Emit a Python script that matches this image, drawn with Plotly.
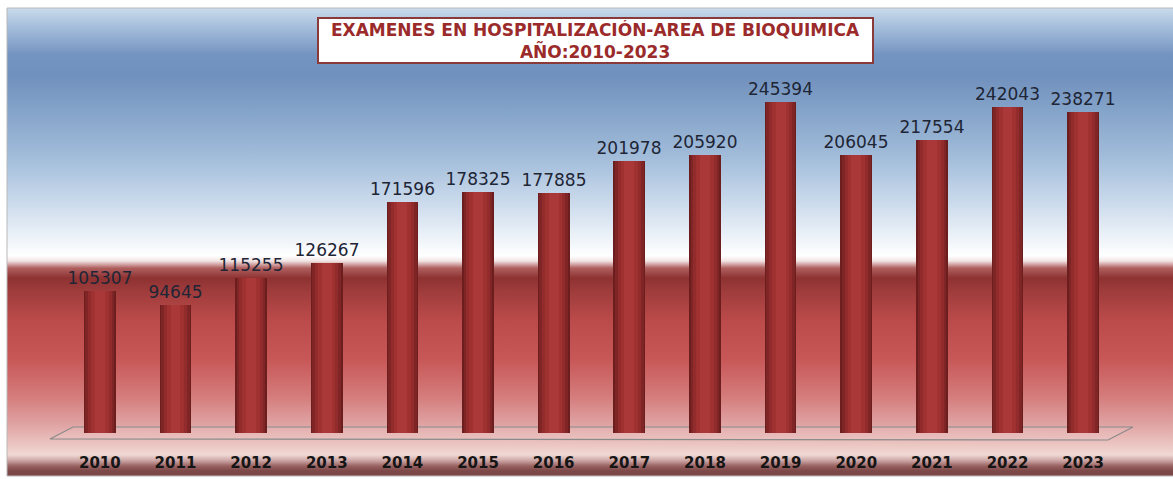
import base64
import plotly.graph_objects as go

years = ["2010", "2011", "2012", "2013", "2014", "2015", "2016",
         "2017", "2018", "2019", "2020", "2021", "2022", "2023"]
exams = [105307, 94645, 115255, 126267, 171596, 178325, 177885,
         201978, 205920, 245394, 206045, 217554, 242043, 238271]

W, H = 1173, 479
ML, MR, MT, MB = 62, 52, 80, 46
PW, PH = W - ML - MR, H - MT - MB
YMAX = 261700


def px(x):
    return (x - ML) / PW


def py(y):
    return (H - MB - y) / PH


def svg_gradient(stops, y0, y1, w):
    h = y1 - y0
    st = "".join(f'<stop offset="{(y - y0) / h:.4f}" stop-color="{c}"/>' for y, c in stops)
    s = (f'<svg xmlns="http://www.w3.org/2000/svg" width="{w}" height="{h}" '
         f'preserveAspectRatio="none" viewBox="0 0 {w} {h}">'
         f'<defs><linearGradient id="g" x1="0" y1="0" x2="0" y2="1">{st}</linearGradient></defs>'
         f'<rect x="0" y="0" width="{w}" height="{h}" fill="url(#g)"/></svg>')
    return "data:image/svg+xml;base64," + base64.b64encode(s.encode()).decode()


# background gradient (reference pixel y -> colour)
stops = [(8, "#c9dbeb"), (25, "#a9c1dd"), (55, "#7393c0"), (75, "#7090bd"),
         (110, "#84a3c9"), (160, "#a4bedb"), (205, "#cddced"), (240, "#eff4f9"),
         (256, "#ffffff"), (261, "#f2e4e4"), (268, "#b06060"), (278, "#8e3232"),
         (292, "#a03c3c"), (320, "#bb4a4a"), (360, "#c85858"), (395, "#d47a7a"),
         (425, "#e0a4a4"), (446, "#ecc8c4"), (455, "#f0d8d4"), (461, "#c8a0a0"),
         (466, "#9a6262"), (471, "#7c4848"), (476, "#7c4848")]
fx0, fy0, fx1, fy1 = 7, 8, 1173, 476
src = svg_gradient(stops, fy0, fy1, fx1 - fx0)

fig = go.Figure()

# cylinder shading via overlaid bars of decreasing width
layers = [(0.42, "#6c1e1e"), (0.38, "#7f2525"), (0.31, "#922c2c"),
          (0.23, "#a03131"), (0.13, "#ab3838")]
for i, (w, c) in enumerate(layers):
    fig.add_trace(go.Bar(
        x=years, y=exams, width=w, marker=dict(color=c, line=dict(width=0)),
        text=[str(v) for v in exams] if i == 0 else None,
        textposition="outside" if i == 0 else "none",
        constraintext="none",
        textfont=dict(family="DejaVu Sans", size=17, color="#1e2535"),
        cliponaxis=False, hoverinfo="skip" if i else None, showlegend=False,
    ))

shapes = [
    # floor parallelogram
    dict(type="path", xref="paper", yref="paper",
         path=(f"M {px(50)},{py(439)} L {px(73)},{py(427)} L {px(1133)},{py(427)} "
               f"L {px(1108)},{py(440)} Z"),
         line=dict(color="#8a8a8a", width=1.2), fillcolor="rgba(255,255,255,0.08)",
         layer="below"),
    # frame border
    dict(type="rect", xref="paper", yref="paper",
         x0=px(fx0), x1=px(fx1 + 2), y0=py(fy1), y1=py(fy0),
         line=dict(color="#b8b8b8", width=1), fillcolor="rgba(0,0,0,0)", layer="below"),
]

fig.update_layout(
    width=W, height=H,
    margin=dict(l=ML, r=MR, t=MT, b=MB, autoexpand=False),
    paper_bgcolor="white", plot_bgcolor="rgba(0,0,0,0)",
    barmode="overlay", bargap=0,
    images=[dict(source=src, xref="paper", yref="paper",
                 x=px(fx0), y=py(fy0), sizex=(fx1 - fx0) / PW, sizey=(fy1 - fy0) / PH,
                 xanchor="left", yanchor="top", sizing="stretch", layer="below")],
    shapes=shapes,
    xaxis=dict(type="category", showgrid=False, showline=False, zeroline=False,
               automargin=False,
               ticks="outside", ticklen=16, tickcolor="rgba(0,0,0,0)",
               tickfont=dict(family="DejaVu Sans", size=15, color="#151515",
                             weight="bold")),
    yaxis=dict(range=[0, YMAX], visible=False, showgrid=False, zeroline=False,
               automargin=False),
    annotations=[dict(
        xref="paper", yref="paper", x=px(595), y=py(40.5),
        xanchor="center", yanchor="middle", showarrow=False,
        text="EXAMENES EN HOSPITALIZACIÓN-AREA DE BIOQUIMICA<br>AÑO:2010-2023",
        font=dict(family="DejaVu Sans", size=17, color="#9b2a2a", weight="bold"),
        bgcolor="white", bordercolor="#8b3a3a", borderwidth=2,
        width=551, height=41, align="center")],
)

fig.write_html(
    "out.html",
    config={"displayModeBar": False},
    post_script="document.body.style.margin='0';document.body.style.overflow='hidden';"
                "document.documentElement.style.overflow='hidden';",
)
